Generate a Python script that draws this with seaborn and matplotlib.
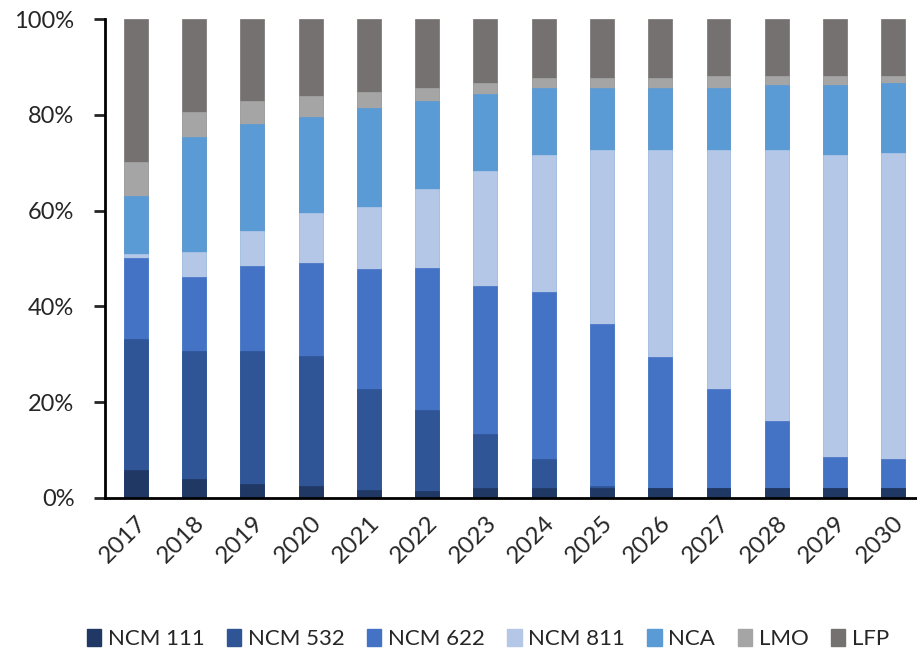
import numpy as np
import pandas as pd
import matplotlib.pyplot as plt
import seaborn as sns
from matplotlib.patches import Patch

years = [str(y) for y in range(2017, 2031)]
materials = ["NCM 111", "NCM 532", "NCM 622", "NCM 811", "NCA", "LMO", "LFP"]
colors = ["#203864", "#2F5597", "#4472C4", "#B4C7E7", "#5B9BD5", "#A5A5A5", "#767171"]

# share of each chemistry per year (%)
ncm111 = [5.8, 3.9, 3.0, 2.5, 1.6, 1.5, 2.0, 2.0, 2.0, 2.0, 2.0, 2.0, 2.0, 2.0]
ncm532 = [27.3, 26.7, 27.6, 27.2, 21.2, 16.9, 11.3, 6.1, 0.5, 0, 0, 0, 0, 0]
ncm622 = [16.9, 15.6, 17.9, 19.3, 24.9, 29.7, 31.0, 34.8, 33.9, 27.4, 20.7, 14.1, 6.6, 6.1]
ncm811 = [0.9, 5.2, 7.2, 10.4, 13.1, 16.5, 24.0, 28.7, 36.2, 43.2, 49.9, 56.5, 63.0, 64.0]
nca = [12.2, 23.9, 22.4, 20.2, 20.7, 18.3, 16.0, 14.1, 13.1, 13.1, 13.1, 13.6, 14.6, 14.5]
lmo = [7.0, 5.3, 4.8, 4.3, 3.3, 2.8, 2.4, 1.9, 1.9, 1.9, 2.4, 1.9, 1.9, 1.5]
lfp = [29.9, 19.4, 17.1, 16.1, 15.2, 14.3, 13.3, 12.4, 12.4, 12.4, 11.9, 11.9, 11.9, 11.9]

df = pd.DataFrame([ncm111, ncm532, ncm622, ncm811, nca, lmo, lfp],
                  index=materials, columns=years).T
cum = df.cumsum(axis=1)

sns.set_style("white")
plt.rcParams['font.family'] = ['Lato', 'DejaVu Sans']

fig = plt.figure(figsize=(9.17, 6.56), dpi=100)
ax = fig.add_axes([0.1145, 0.241, 0.885, 0.73])

# stacked bars: draw cumulative totals from top layer down
for m, c in reversed(list(zip(materials, colors))):
    sns.barplot(x=cum.index, y=cum[m], color=c, width=0.41, saturation=1,
                edgecolor=c, linewidth=0.5, ax=ax)

ax.set_xlim(-0.53, 13.4)
ax.set_ylim(0, 100)
ax.set_yticks(np.arange(0, 101, 20))
ax.set_yticklabels([f"{v}%" for v in range(0, 101, 20)], fontsize=17)
ax.set_xlabel("")
ax.set_ylabel("")
ax.set_xticks(range(len(years)))
ax.set_xticklabels(years, rotation=45, ha="right", rotation_mode="anchor", fontsize=17.5)
ax.tick_params(axis="y", direction="out", length=8, width=2, pad=14, left=True)
ax.tick_params(axis="x", length=0, pad=10)

for s in ["top", "right"]:
    ax.spines[s].set_visible(False)
for s in ["left", "bottom"]:
    ax.spines[s].set_linewidth(2)
    ax.spines[s].set_color("black")

handles = [Patch(facecolor=c, edgecolor=c) for c in colors]
fig.legend(handles, materials, loc="lower center", bbox_to_anchor=(0.532, -0.02),
           ncol=7, frameon=False, fontsize=16, handlelength=0.65, handleheight=0.85,
           handletextpad=0.3, columnspacing=1.0)

fig.savefig("out.png", dpi=100)
